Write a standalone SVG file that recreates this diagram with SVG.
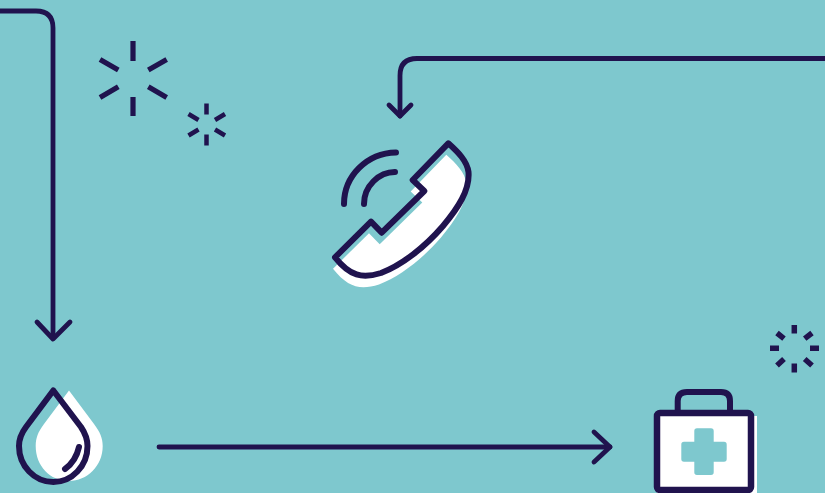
<svg xmlns="http://www.w3.org/2000/svg" width="825" height="493" viewBox="0 0 825 493">
<style>
.l{fill:none;stroke:#20134e;stroke-width:4.8;stroke-linecap:round;stroke-linejoin:round}
.o{fill:none;stroke:#20134e;stroke-width:6;stroke-linecap:round;stroke-linejoin:round}
.s{fill:none;stroke:#20134e;stroke-linecap:butt}
.w{fill:#fff}
.t{fill:#7ec8ce}
</style>
<defs>
<path id="ph" d="M448.3 143.3 C458 152 467 161 468.5 172 C470 190 458 208 443 226 C425 247 402 265 381 273 C362 279 350 276 335 257.3 L371 221.7 L381.7 232.7 L424.3 191 L412.7 180 Z"/>
<path id="dr" d="M53.3 390.5 L81 427 C85 433 87.5 438 87.5 446 C87.5 466 72 482 53.3 482 C34.5 482 19 466 19 446 C19 438 21.5 433 26 427 Z"/>
</defs>
<rect width="825" height="493" fill="#7ec8ce"/>
<g id="connectors">
<path class="l" d="M0 11 H36 Q53 11 53 28 V338"/>
<path class="l" d="M37 322 L53 339 L70 322"/>
<path class="l" d="M825 58.5 H417 Q400 58.5 400 75.5 V116"/>
<path class="l" d="M389 105 L400 116 L411 105"/>
<path class="l" d="M159 447 H610"/>
<path class="l" d="M594 432 L610 447 L594 462"/>
</g>
<g id="spark-large" class="s" stroke-width="5.2">
<path d="M133 41V61M133 97V116M100 59.5L118.3 70M166.7 59.5L148.3 70M118.3 86.7L100 97.5M148.3 86.7L166.7 97.5"/>
</g>
<g id="spark-small" class="s" stroke-width="4.5">
<path d="M206.5 103.5V114.5M206.5 134.5V145.5M188.5 114L198.5 120M225 114L215 120M198.5 129.5L188.5 135.5M215 129.5L225 135.5"/>
</g>
<g id="spark-right" class="s" stroke-width="5.5">
<path d="M794.3 325V333.5M794.3 363.5V372.5M770 348.3H779M810 348.3H819M777 333L784 338.7M812 333L804.7 338.7M784 359L777 365.5M804.7 359L812 365.5"/>
</g>
<g id="phone">
<use href="#ph" class="w" transform="translate(-2 11.5)"/>
<use href="#ph" class="o"/>
<path class="o" d="M396 152.5 C367 153 344 176 344 204"/>
<path class="o" d="M395 172 C379 172 364 186 364 204"/>
</g>
<g id="drop">
<path class="w" d="M69 390.5 L94 424 C100 432 102.7 438 102.7 446 C102.7 466 87 481 69 481 C50 481 35.7 466 35.7 446 C35.7 438 38 432 44 424 Z"/>
<use href="#dr" class="o"/>
<path class="o" d="M65 469 C72 464 77 456 79 447"/>
</g>
<g id="kit">
<rect class="w" x="657" y="416" width="100" height="77"/>
<path class="o" d="M677.7 413 V401 Q677.7 392 687 392 H721 Q730 392 730 401 V413"/>
<rect class="o" x="657" y="413" width="94" height="77" rx="3" stroke-width="6.5" style="stroke-width:6.5"/>
<path class="t" d="M697 428.3 H711 Q713.7 428.3 713.7 431 V441.7 H724 Q726.7 441.7 726.7 444.4 V459 Q726.7 461.7 724 461.7 H713.7 V472.3 Q713.7 475 711 475 H697 Q694.3 475 694.3 472.3 V461.7 H684 Q681.3 461.7 681.3 459 V444.4 Q681.3 441.7 684 441.7 H694.3 V431 Q694.3 428.3 697 428.3 Z"/>
</g>
</svg>
